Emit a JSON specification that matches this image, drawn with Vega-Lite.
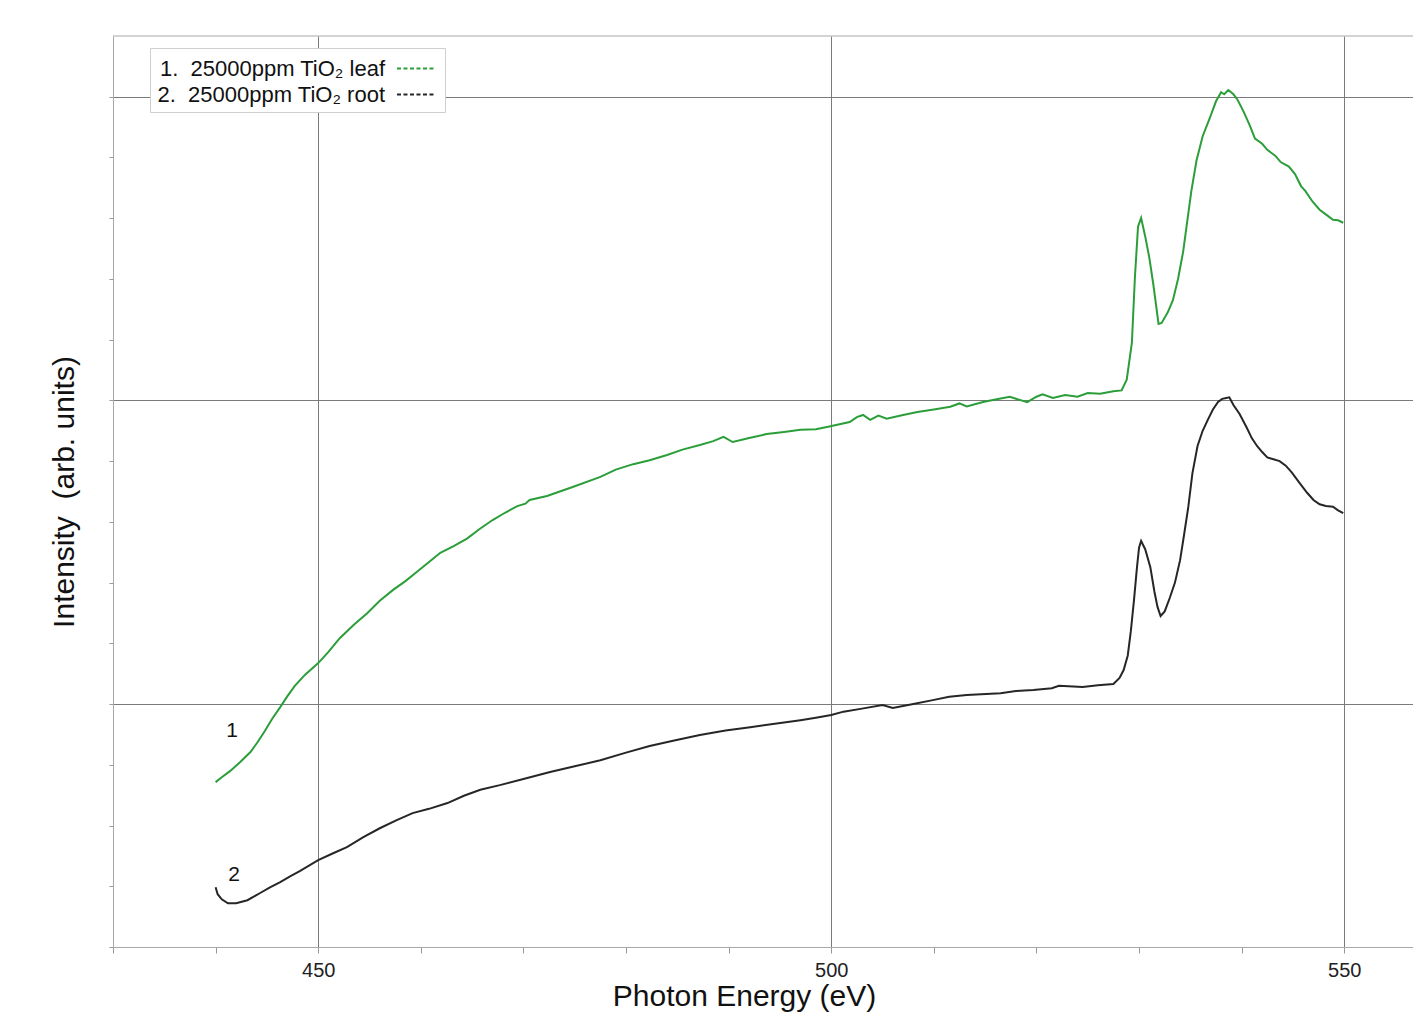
{
  "$schema": "https://vega.github.io/schema/vega-lite/v6.json",
  "width": 1300,
  "height": 911,
  "autosize": "none",
  "padding": {"left": 113, "top": 36, "right": 0, "bottom": 70},
  "background": "white",
  "config": {"font": "Liberation Sans", "view": {"stroke": null}},
  "datasets": {
    "spectra": [
      {"e":440.0,"I":0.743,"s":"1.  25000ppm TiO₂ leaf"},
      {"e":440.6,"I":0.759,"s":"1.  25000ppm TiO₂ leaf"},
      {"e":441.4,"I":0.779,"s":"1.  25000ppm TiO₂ leaf"},
      {"e":442.4,"I":0.809,"s":"1.  25000ppm TiO₂ leaf"},
      {"e":443.4,"I":0.842,"s":"1.  25000ppm TiO₂ leaf"},
      {"e":444.1,"I":0.875,"s":"1.  25000ppm TiO₂ leaf"},
      {"e":444.8,"I":0.911,"s":"1.  25000ppm TiO₂ leaf"},
      {"e":445.5,"I":0.951,"s":"1.  25000ppm TiO₂ leaf"},
      {"e":446.3,"I":0.990,"s":"1.  25000ppm TiO₂ leaf"},
      {"e":447.0,"I":1.026,"s":"1.  25000ppm TiO₂ leaf"},
      {"e":447.7,"I":1.059,"s":"1.  25000ppm TiO₂ leaf"},
      {"e":448.7,"I":1.096,"s":"1.  25000ppm TiO₂ leaf"},
      {"e":450.0,"I":1.135,"s":"1.  25000ppm TiO₂ leaf"},
      {"e":451.0,"I":1.172,"s":"1.  25000ppm TiO₂ leaf"},
      {"e":452.1,"I":1.217,"s":"1.  25000ppm TiO₂ leaf"},
      {"e":453.5,"I":1.262,"s":"1.  25000ppm TiO₂ leaf"},
      {"e":454.8,"I":1.300,"s":"1.  25000ppm TiO₂ leaf"},
      {"e":456.0,"I":1.340,"s":"1.  25000ppm TiO₂ leaf"},
      {"e":457.3,"I":1.376,"s":"1.  25000ppm TiO₂ leaf"},
      {"e":458.5,"I":1.405,"s":"1.  25000ppm TiO₂ leaf"},
      {"e":459.6,"I":1.435,"s":"1.  25000ppm TiO₂ leaf"},
      {"e":460.8,"I":1.468,"s":"1.  25000ppm TiO₂ leaf"},
      {"e":461.9,"I":1.498,"s":"1.  25000ppm TiO₂ leaf"},
      {"e":463.2,"I":1.520,"s":"1.  25000ppm TiO₂ leaf"},
      {"e":464.5,"I":1.545,"s":"1.  25000ppm TiO₂ leaf"},
      {"e":465.8,"I":1.578,"s":"1.  25000ppm TiO₂ leaf"},
      {"e":467.0,"I":1.606,"s":"1.  25000ppm TiO₂ leaf"},
      {"e":468.2,"I":1.630,"s":"1.  25000ppm TiO₂ leaf"},
      {"e":469.4,"I":1.652,"s":"1.  25000ppm TiO₂ leaf"},
      {"e":470.2,"I":1.660,"s":"1.  25000ppm TiO₂ leaf"},
      {"e":470.6,"I":1.672,"s":"1.  25000ppm TiO₂ leaf"},
      {"e":472.3,"I":1.685,"s":"1.  25000ppm TiO₂ leaf"},
      {"e":474.8,"I":1.715,"s":"1.  25000ppm TiO₂ leaf"},
      {"e":477.5,"I":1.748,"s":"1.  25000ppm TiO₂ leaf"},
      {"e":479.0,"I":1.772,"s":"1.  25000ppm TiO₂ leaf"},
      {"e":480.7,"I":1.790,"s":"1.  25000ppm TiO₂ leaf"},
      {"e":482.3,"I":1.803,"s":"1.  25000ppm TiO₂ leaf"},
      {"e":484.0,"I":1.820,"s":"1.  25000ppm TiO₂ leaf"},
      {"e":485.5,"I":1.838,"s":"1.  25000ppm TiO₂ leaf"},
      {"e":487.2,"I":1.853,"s":"1.  25000ppm TiO₂ leaf"},
      {"e":488.5,"I":1.866,"s":"1.  25000ppm TiO₂ leaf"},
      {"e":489.5,"I":1.880,"s":"1.  25000ppm TiO₂ leaf"},
      {"e":490.4,"I":1.863,"s":"1.  25000ppm TiO₂ leaf"},
      {"e":492.0,"I":1.876,"s":"1.  25000ppm TiO₂ leaf"},
      {"e":493.7,"I":1.889,"s":"1.  25000ppm TiO₂ leaf"},
      {"e":495.4,"I":1.896,"s":"1.  25000ppm TiO₂ leaf"},
      {"e":497.0,"I":1.903,"s":"1.  25000ppm TiO₂ leaf"},
      {"e":498.5,"I":1.905,"s":"1.  25000ppm TiO₂ leaf"},
      {"e":499.7,"I":1.913,"s":"1.  25000ppm TiO₂ leaf"},
      {"e":501.8,"I":1.929,"s":"1.  25000ppm TiO₂ leaf"},
      {"e":502.5,"I":1.945,"s":"1.  25000ppm TiO₂ leaf"},
      {"e":503.1,"I":1.952,"s":"1.  25000ppm TiO₂ leaf"},
      {"e":503.8,"I":1.936,"s":"1.  25000ppm TiO₂ leaf"},
      {"e":504.6,"I":1.950,"s":"1.  25000ppm TiO₂ leaf"},
      {"e":505.4,"I":1.940,"s":"1.  25000ppm TiO₂ leaf"},
      {"e":507.0,"I":1.952,"s":"1.  25000ppm TiO₂ leaf"},
      {"e":508.4,"I":1.962,"s":"1.  25000ppm TiO₂ leaf"},
      {"e":510.0,"I":1.970,"s":"1.  25000ppm TiO₂ leaf"},
      {"e":511.6,"I":1.979,"s":"1.  25000ppm TiO₂ leaf"},
      {"e":512.5,"I":1.990,"s":"1.  25000ppm TiO₂ leaf"},
      {"e":513.2,"I":1.980,"s":"1.  25000ppm TiO₂ leaf"},
      {"e":514.8,"I":1.995,"s":"1.  25000ppm TiO₂ leaf"},
      {"e":516.0,"I":2.003,"s":"1.  25000ppm TiO₂ leaf"},
      {"e":517.4,"I":2.012,"s":"1.  25000ppm TiO₂ leaf"},
      {"e":519.1,"I":1.994,"s":"1.  25000ppm TiO₂ leaf"},
      {"e":520.0,"I":2.012,"s":"1.  25000ppm TiO₂ leaf"},
      {"e":520.6,"I":2.020,"s":"1.  25000ppm TiO₂ leaf"},
      {"e":521.6,"I":2.008,"s":"1.  25000ppm TiO₂ leaf"},
      {"e":522.8,"I":2.018,"s":"1.  25000ppm TiO₂ leaf"},
      {"e":524.0,"I":2.012,"s":"1.  25000ppm TiO₂ leaf"},
      {"e":525.0,"I":2.024,"s":"1.  25000ppm TiO₂ leaf"},
      {"e":526.2,"I":2.022,"s":"1.  25000ppm TiO₂ leaf"},
      {"e":527.5,"I":2.030,"s":"1.  25000ppm TiO₂ leaf"},
      {"e":528.3,"I":2.033,"s":"1.  25000ppm TiO₂ leaf"},
      {"e":528.8,"I":2.068,"s":"1.  25000ppm TiO₂ leaf"},
      {"e":529.3,"I":2.189,"s":"1.  25000ppm TiO₂ leaf"},
      {"e":529.6,"I":2.407,"s":"1.  25000ppm TiO₂ leaf"},
      {"e":529.9,"I":2.572,"s":"1.  25000ppm TiO₂ leaf"},
      {"e":530.2,"I":2.601,"s":"1.  25000ppm TiO₂ leaf"},
      {"e":530.6,"I":2.540,"s":"1.  25000ppm TiO₂ leaf"},
      {"e":531.0,"I":2.470,"s":"1.  25000ppm TiO₂ leaf"},
      {"e":531.4,"I":2.380,"s":"1.  25000ppm TiO₂ leaf"},
      {"e":531.9,"I":2.252,"s":"1.  25000ppm TiO₂ leaf"},
      {"e":532.2,"I":2.255,"s":"1.  25000ppm TiO₂ leaf"},
      {"e":532.8,"I":2.290,"s":"1.  25000ppm TiO₂ leaf"},
      {"e":533.3,"I":2.330,"s":"1.  25000ppm TiO₂ leaf"},
      {"e":533.8,"I":2.400,"s":"1.  25000ppm TiO₂ leaf"},
      {"e":534.3,"I":2.490,"s":"1.  25000ppm TiO₂ leaf"},
      {"e":534.7,"I":2.590,"s":"1.  25000ppm TiO₂ leaf"},
      {"e":535.1,"I":2.690,"s":"1.  25000ppm TiO₂ leaf"},
      {"e":535.6,"I":2.790,"s":"1.  25000ppm TiO₂ leaf"},
      {"e":536.2,"I":2.870,"s":"1.  25000ppm TiO₂ leaf"},
      {"e":536.9,"I":2.930,"s":"1.  25000ppm TiO₂ leaf"},
      {"e":537.5,"I":2.985,"s":"1.  25000ppm TiO₂ leaf"},
      {"e":538.0,"I":3.015,"s":"1.  25000ppm TiO₂ leaf"},
      {"e":538.3,"I":3.008,"s":"1.  25000ppm TiO₂ leaf"},
      {"e":538.7,"I":3.022,"s":"1.  25000ppm TiO₂ leaf"},
      {"e":539.2,"I":3.008,"s":"1.  25000ppm TiO₂ leaf"},
      {"e":539.6,"I":2.990,"s":"1.  25000ppm TiO₂ leaf"},
      {"e":540.2,"I":2.950,"s":"1.  25000ppm TiO₂ leaf"},
      {"e":540.8,"I":2.905,"s":"1.  25000ppm TiO₂ leaf"},
      {"e":541.3,"I":2.862,"s":"1.  25000ppm TiO₂ leaf"},
      {"e":542.0,"I":2.845,"s":"1.  25000ppm TiO₂ leaf"},
      {"e":542.5,"I":2.825,"s":"1.  25000ppm TiO₂ leaf"},
      {"e":543.3,"I":2.805,"s":"1.  25000ppm TiO₂ leaf"},
      {"e":543.8,"I":2.785,"s":"1.  25000ppm TiO₂ leaf"},
      {"e":544.6,"I":2.770,"s":"1.  25000ppm TiO₂ leaf"},
      {"e":545.2,"I":2.745,"s":"1.  25000ppm TiO₂ leaf"},
      {"e":545.8,"I":2.705,"s":"1.  25000ppm TiO₂ leaf"},
      {"e":546.2,"I":2.690,"s":"1.  25000ppm TiO₂ leaf"},
      {"e":546.9,"I":2.655,"s":"1.  25000ppm TiO₂ leaf"},
      {"e":547.6,"I":2.628,"s":"1.  25000ppm TiO₂ leaf"},
      {"e":548.3,"I":2.610,"s":"1.  25000ppm TiO₂ leaf"},
      {"e":548.9,"I":2.595,"s":"1.  25000ppm TiO₂ leaf"},
      {"e":549.4,"I":2.593,"s":"1.  25000ppm TiO₂ leaf"},
      {"e":549.9,"I":2.585,"s":"1.  25000ppm TiO₂ leaf"},
      {"e":440.0,"I":0.397,"s":"2.  25000ppm TiO₂ root"},
      {"e":440.2,"I":0.374,"s":"2.  25000ppm TiO₂ root"},
      {"e":440.6,"I":0.357,"s":"2.  25000ppm TiO₂ root"},
      {"e":441.2,"I":0.344,"s":"2.  25000ppm TiO₂ root"},
      {"e":442.0,"I":0.344,"s":"2.  25000ppm TiO₂ root"},
      {"e":443.1,"I":0.354,"s":"2.  25000ppm TiO₂ root"},
      {"e":444.3,"I":0.377,"s":"2.  25000ppm TiO₂ root"},
      {"e":445.3,"I":0.396,"s":"2.  25000ppm TiO₂ root"},
      {"e":446.3,"I":0.414,"s":"2.  25000ppm TiO₂ root"},
      {"e":447.3,"I":0.433,"s":"2.  25000ppm TiO₂ root"},
      {"e":448.2,"I":0.450,"s":"2.  25000ppm TiO₂ root"},
      {"e":450.0,"I":0.486,"s":"2.  25000ppm TiO₂ root"},
      {"e":451.4,"I":0.508,"s":"2.  25000ppm TiO₂ root"},
      {"e":452.8,"I":0.529,"s":"2.  25000ppm TiO₂ root"},
      {"e":454.4,"I":0.562,"s":"2.  25000ppm TiO₂ root"},
      {"e":456.0,"I":0.591,"s":"2.  25000ppm TiO₂ root"},
      {"e":457.6,"I":0.617,"s":"2.  25000ppm TiO₂ root"},
      {"e":459.2,"I":0.641,"s":"2.  25000ppm TiO₂ root"},
      {"e":460.8,"I":0.655,"s":"2.  25000ppm TiO₂ root"},
      {"e":462.6,"I":0.674,"s":"2.  25000ppm TiO₂ root"},
      {"e":464.2,"I":0.698,"s":"2.  25000ppm TiO₂ root"},
      {"e":465.8,"I":0.718,"s":"2.  25000ppm TiO₂ root"},
      {"e":467.7,"I":0.733,"s":"2.  25000ppm TiO₂ root"},
      {"e":470.0,"I":0.753,"s":"2.  25000ppm TiO₂ root"},
      {"e":472.6,"I":0.776,"s":"2.  25000ppm TiO₂ root"},
      {"e":475.0,"I":0.795,"s":"2.  25000ppm TiO₂ root"},
      {"e":477.5,"I":0.815,"s":"2.  25000ppm TiO₂ root"},
      {"e":480.0,"I":0.840,"s":"2.  25000ppm TiO₂ root"},
      {"e":482.3,"I":0.862,"s":"2.  25000ppm TiO₂ root"},
      {"e":484.7,"I":0.880,"s":"2.  25000ppm TiO₂ root"},
      {"e":487.2,"I":0.898,"s":"2.  25000ppm TiO₂ root"},
      {"e":489.7,"I":0.913,"s":"2.  25000ppm TiO₂ root"},
      {"e":492.1,"I":0.924,"s":"2.  25000ppm TiO₂ root"},
      {"e":494.5,"I":0.935,"s":"2.  25000ppm TiO₂ root"},
      {"e":497.0,"I":0.947,"s":"2.  25000ppm TiO₂ root"},
      {"e":498.5,"I":0.955,"s":"2.  25000ppm TiO₂ root"},
      {"e":500.0,"I":0.964,"s":"2.  25000ppm TiO₂ root"},
      {"e":501.2,"I":0.975,"s":"2.  25000ppm TiO₂ root"},
      {"e":503.0,"I":0.985,"s":"2.  25000ppm TiO₂ root"},
      {"e":505.0,"I":0.997,"s":"2.  25000ppm TiO₂ root"},
      {"e":506.0,"I":0.987,"s":"2.  25000ppm TiO₂ root"},
      {"e":508.0,"I":1.000,"s":"2.  25000ppm TiO₂ root"},
      {"e":509.9,"I":1.013,"s":"2.  25000ppm TiO₂ root"},
      {"e":511.5,"I":1.024,"s":"2.  25000ppm TiO₂ root"},
      {"e":513.2,"I":1.030,"s":"2.  25000ppm TiO₂ root"},
      {"e":516.5,"I":1.036,"s":"2.  25000ppm TiO₂ root"},
      {"e":518.0,"I":1.043,"s":"2.  25000ppm TiO₂ root"},
      {"e":519.7,"I":1.046,"s":"2.  25000ppm TiO₂ root"},
      {"e":521.5,"I":1.052,"s":"2.  25000ppm TiO₂ root"},
      {"e":522.2,"I":1.060,"s":"2.  25000ppm TiO₂ root"},
      {"e":524.5,"I":1.056,"s":"2.  25000ppm TiO₂ root"},
      {"e":526.0,"I":1.062,"s":"2.  25000ppm TiO₂ root"},
      {"e":527.5,"I":1.066,"s":"2.  25000ppm TiO₂ root"},
      {"e":528.1,"I":1.086,"s":"2.  25000ppm TiO₂ root"},
      {"e":528.5,"I":1.112,"s":"2.  25000ppm TiO₂ root"},
      {"e":528.9,"I":1.160,"s":"2.  25000ppm TiO₂ root"},
      {"e":529.2,"I":1.240,"s":"2.  25000ppm TiO₂ root"},
      {"e":529.5,"I":1.340,"s":"2.  25000ppm TiO₂ root"},
      {"e":529.8,"I":1.451,"s":"2.  25000ppm TiO₂ root"},
      {"e":530.0,"I":1.515,"s":"2.  25000ppm TiO₂ root"},
      {"e":530.2,"I":1.537,"s":"2.  25000ppm TiO₂ root"},
      {"e":530.6,"I":1.510,"s":"2.  25000ppm TiO₂ root"},
      {"e":531.1,"I":1.451,"s":"2.  25000ppm TiO₂ root"},
      {"e":531.5,"I":1.370,"s":"2.  25000ppm TiO₂ root"},
      {"e":531.8,"I":1.320,"s":"2.  25000ppm TiO₂ root"},
      {"e":532.1,"I":1.290,"s":"2.  25000ppm TiO₂ root"},
      {"e":532.5,"I":1.305,"s":"2.  25000ppm TiO₂ root"},
      {"e":533.0,"I":1.350,"s":"2.  25000ppm TiO₂ root"},
      {"e":533.5,"I":1.400,"s":"2.  25000ppm TiO₂ root"},
      {"e":534.0,"I":1.474,"s":"2.  25000ppm TiO₂ root"},
      {"e":534.4,"I":1.560,"s":"2.  25000ppm TiO₂ root"},
      {"e":534.8,"I":1.649,"s":"2.  25000ppm TiO₂ root"},
      {"e":535.2,"I":1.760,"s":"2.  25000ppm TiO₂ root"},
      {"e":535.7,"I":1.850,"s":"2.  25000ppm TiO₂ root"},
      {"e":536.2,"I":1.900,"s":"2.  25000ppm TiO₂ root"},
      {"e":536.7,"I":1.936,"s":"2.  25000ppm TiO₂ root"},
      {"e":537.2,"I":1.970,"s":"2.  25000ppm TiO₂ root"},
      {"e":537.7,"I":1.995,"s":"2.  25000ppm TiO₂ root"},
      {"e":538.1,"I":2.005,"s":"2.  25000ppm TiO₂ root"},
      {"e":538.5,"I":2.008,"s":"2.  25000ppm TiO₂ root"},
      {"e":538.8,"I":2.010,"s":"2.  25000ppm TiO₂ root"},
      {"e":539.2,"I":1.985,"s":"2.  25000ppm TiO₂ root"},
      {"e":539.8,"I":1.955,"s":"2.  25000ppm TiO₂ root"},
      {"e":540.5,"I":1.910,"s":"2.  25000ppm TiO₂ root"},
      {"e":541.0,"I":1.875,"s":"2.  25000ppm TiO₂ root"},
      {"e":541.5,"I":1.850,"s":"2.  25000ppm TiO₂ root"},
      {"e":542.0,"I":1.830,"s":"2.  25000ppm TiO₂ root"},
      {"e":542.5,"I":1.812,"s":"2.  25000ppm TiO₂ root"},
      {"e":543.1,"I":1.806,"s":"2.  25000ppm TiO₂ root"},
      {"e":543.7,"I":1.800,"s":"2.  25000ppm TiO₂ root"},
      {"e":544.3,"I":1.785,"s":"2.  25000ppm TiO₂ root"},
      {"e":544.9,"I":1.762,"s":"2.  25000ppm TiO₂ root"},
      {"e":545.6,"I":1.730,"s":"2.  25000ppm TiO₂ root"},
      {"e":546.4,"I":1.695,"s":"2.  25000ppm TiO₂ root"},
      {"e":547.0,"I":1.672,"s":"2.  25000ppm TiO₂ root"},
      {"e":547.6,"I":1.658,"s":"2.  25000ppm TiO₂ root"},
      {"e":548.2,"I":1.652,"s":"2.  25000ppm TiO₂ root"},
      {"e":548.9,"I":1.650,"s":"2.  25000ppm TiO₂ root"},
      {"e":549.4,"I":1.638,"s":"2.  25000ppm TiO₂ root"},
      {"e":549.9,"I":1.629,"s":"2.  25000ppm TiO₂ root"}
    ],
    "tags": [
      {"e":441.6,"I":0.911,"t":"1"},
      {"e":441.8,"I":0.437,"t":"2"}
    ],
    "frame": [{"I":3.2}]
  },
  "layer": [
    {
      "data": {"name": "spectra"},
      "mark": {"type": "line", "strokeWidth": 2, "clip": true},
      "encoding": {
        "x": {
          "field": "e", "type": "quantitative",
          "scale": {"domain": [430, 556.7], "nice": false, "zero": false},
          "axis": {
            "values": [430,440,450,460,470,480,490,500,510,520,530,540,550],
            "labelExpr": "datum.value % 50 === 0 ? datum.label : ''",
            "title": "Photon Energy (eV)",
            "titleFontSize": 30, "titleFontWeight": "normal", "titleColor": "#111",
            "titleX": 631, "titleY": 34, "titleBaseline": "top",
            "labelFontSize": 20, "labelColor": "#222", "labelPadding": 7,
            "tickSize": 6, "tickColor": "#999", "domainColor": "#a8a8a8",
            "grid": true, "gridColor": "#7a7a7a", "gridWidth": 1,
            "gridOpacity": {"condition": {"test": "datum.value % 50 === 0", "value": 1}, "value": 0}
          }
        },
        "y": {
          "field": "I", "type": "quantitative",
          "scale": {"domain": [0.2, 3.2], "nice": false, "zero": false},
          "axis": {
            "values": [0.2,0.4,0.6,0.8,1,1.2,1.4,1.6,1.8,2,2.2,2.4,2.6,2.8,3],
            "labels": false,
            "title": "Intensity\u00a0\u00a0(arb. units)",
            "titleFontSize": 30, "titleFontWeight": "normal", "titleColor": "#111",
            "titlePadding": 29,
            "tickSize": 4, "tickColor": "#999", "domainColor": "#a8a8a8",
            "grid": true, "gridColor": "#7a7a7a", "gridWidth": 1,
            "gridOpacity": {"condition": {"test": "abs(datum.value - round(datum.value)) < 0.01", "value": 1}, "value": 0}
          }
        },
        "color": {
          "field": "s", "type": "nominal",
          "scale": {"domain": ["1.  25000ppm TiO₂ leaf", "2.  25000ppm TiO₂ root"], "range": ["#2b9e3a", "#262626"]},
          "legend": {
            "orient": "none", "legendX": 37, "legendY": 12,
            "title": null,
            "labelExpr": "replace(datum.label, '.  ', '.\u00a0\u00a0')",
            "fillColor": "white", "strokeColor": "#cfcfcf", "padding": 6,
            "labelFontSize": 22, "labelColor": "#111", "labelLimit": 400,
            "labelAlign": "right", "labelOffset": -45, "symbolOffset": 245,
            "symbolType": "M-1.4,0H1.4", "symbolStrokeWidth": 2, "symbolDash": [4, 2.5], "symbolSize": 700,
            "symbolFillColor": "transparent",
            "rowPadding": 0
          }
        }
      }
    },
    {
      "data": {"name": "tags"},
      "mark": {"type": "text", "fontSize": 21, "color": "#111", "font": "Liberation Sans"},
      "encoding": {
        "x": {"field": "e", "type": "quantitative"},
        "y": {"field": "I", "type": "quantitative"},
        "text": {"field": "t"}
      }
    },
    {
      "data": {"name": "frame"},
      "mark": {"type": "rule", "color": "#a8a8a8", "strokeWidth": 1},
      "encoding": {
        "y": {"field": "I", "type": "quantitative"}
      }
    }
  ]
}
